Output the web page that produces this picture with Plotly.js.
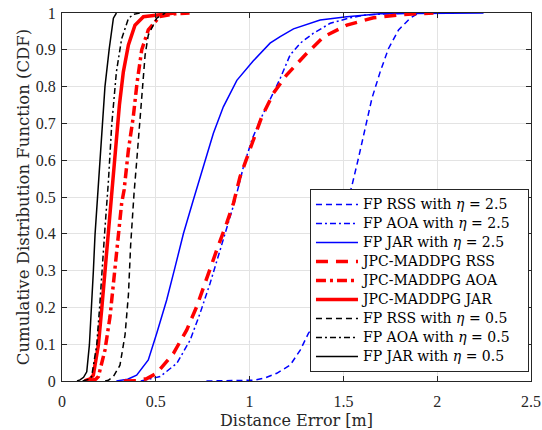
<!DOCTYPE html>
<html><head><meta charset="utf-8">
<script src="https://cdn.plot.ly/plotly-3.0.1.min.js"></script>
<style>body{margin:0;background:#fff}#plot{width:542px;height:430px}</style>
</head><body><div id="plot"></div>
<script>
// FP RSS with eta = 2.5
const fpRss25X = [0.77,0.9,1.02,1.08,1.127,1.145,1.216,1.27,1.314,1.34,1.4,1.45,1.5,1.545,1.58,1.616,1.652,1.696,1.74,1.794,1.856,1.9];
const fpRss25Y = [0,0,0.002,0.008,0.016,0.021,0.043,0.084,0.13,0.148,0.26,0.35,0.45,0.53,0.605,0.687,0.768,0.84,0.903,0.954,0.986,1];
// FP AOA with eta = 2.5
const fpAoa25X = [0.42,0.523,0.612,0.683,0.736,0.789,0.843,0.896,0.923,0.967,1.012,1.056,1.109,1.163,1.216,1.27,1.34,1.43,1.536,1.625,1.75,1.87];
const fpAoa25Y = [0,0.012,0.048,0.111,0.184,0.265,0.356,0.446,0.492,0.582,0.655,0.709,0.764,0.822,0.886,0.918,0.945,0.972,0.987,0.995,0.998,1];
// FP JAR with eta = 2.5
const fpJar25X = [0.29,0.35,0.398,0.46,0.505,0.558,0.603,0.647,0.70,0.754,0.807,0.86,0.932,1.02,1.109,1.163,1.234,1.376,1.518,1.696,2.0,2.247];
const fpJar25Y = [0,0.005,0.016,0.057,0.13,0.22,0.31,0.40,0.492,0.582,0.673,0.745,0.817,0.87,0.918,0.936,0.957,0.981,0.99,0.998,1,1];
// JPC-MADDPG RSS
const jpcRssX = [0.33,0.4,0.45,0.505,0.594,0.665,0.718,0.772,0.825,0.878,0.914,0.949,1.003,1.065,1.127,1.198,1.296,1.394,1.518,1.66,1.82,1.98];
const jpcRssY = [0,0.001,0.006,0.021,0.075,0.139,0.202,0.283,0.356,0.429,0.483,0.555,0.632,0.718,0.782,0.832,0.886,0.935,0.967,0.987,0.996,1];
// JPC-MADDPG AOA
const jpcAoaX = [0.15,0.158,0.18,0.194,0.229,0.256,0.274,0.3,0.318,0.331,0.354,0.38,0.40,0.425,0.46,0.52,0.6,0.68];
const jpcAoaY = [0,0.001,0.005,0.012,0.084,0.175,0.265,0.383,0.483,0.519,0.628,0.718,0.81,0.9,0.954,0.99,0.998,1];
// JPC-MADDPG JAR
const jpcJarX = [0.12,0.13,0.15,0.167,0.194,0.212,0.229,0.247,0.265,0.288,0.306,0.327,0.354,0.389,0.434,0.523,0.6];
const jpcJarY = [0,0.002,0.006,0.016,0.098,0.197,0.297,0.415,0.505,0.632,0.75,0.84,0.913,0.967,0.99,0.995,1];
// FP RSS with eta = 0.5
const fpRss05X = [0.23,0.247,0.274,0.309,0.336,0.354,0.366,0.377,0.384,0.398,0.412,0.425,0.443,0.46,0.505,0.55];
const fpRss05Y = [0,0.002,0.012,0.043,0.125,0.234,0.37,0.478,0.51,0.596,0.687,0.795,0.886,0.94,0.986,1];
// FP AOA with eta = 0.5
const fpAoa05X = [0.11,0.123,0.145,0.158,0.185,0.2,0.212,0.229,0.247,0.265,0.29,0.318,0.354,0.38,0.416];
const fpAoa05Y = [0,0.002,0.005,0.012,0.098,0.197,0.297,0.415,0.54,0.696,0.84,0.93,0.985,0.996,1];
// FP JAR with eta = 0.5
const fpJar05X = [0.08,0.096,0.115,0.132,0.146,0.158,0.167,0.176,0.19,0.199,0.212,0.229,0.252,0.274,0.29];
const fpJar05Y = [0,0.003,0.01,0.025,0.098,0.197,0.297,0.397,0.505,0.596,0.696,0.80,0.904,0.986,1];

const xTicks = [0,0.5,1,1.5,2,2.5];
const xTickText = ['0','0.5','1','1.5','2','2.5'];
const yTicks = [0,0.1,0.2,0.3,0.4,0.5,0.6,0.7,0.8,0.9,1];
const yTickText = ['0','0.1','0.2','0.3','0.4','0.5','0.6','0.7','0.8','0.9','1'];

const legendLabels = ['FP RSS with <i>η</i> = 2.5','FP AOA with <i>η</i> = 2.5','FP JAR with <i>η</i> = 2.5',
  'JPC-MADDPG RSS','JPC-MADDPG AOA','JPC-MADDPG JAR',
  'FP RSS with <i>η</i> = 0.5','FP AOA with <i>η</i> = 0.5','FP JAR with <i>η</i> = 0.5'];
const names = legendLabels.map(s => '<span style="font-size:14px">' + s + '\u00a0\u00a0\u00a0</span>');

const thin = 1.5, thick = 3.5;
const mk = (x,y,name,color,w,dash) => ({x,y,name,type:'scatter',mode:'lines',line:{color,width:w,dash}});
const data = [
  mk(fpRss25X,fpRss25Y,names[0],'#0000ff',thin,'6px,4px'),
  mk(fpAoa25X,fpAoa25Y,names[1],'#0000ff',thin,'6px,3px,2px,3px'),
  mk(fpJar25X,fpJar25Y,names[2],'#0000ff',thin,'solid'),
  mk(jpcRssX,jpcRssY,names[3],'#ff0000',thick,'12px,8px'),
  mk(jpcAoaX,jpcAoaY,names[4],'#ff0000',thick,'10px,4px,3px,4px'),
  mk(jpcJarX,jpcJarY,names[5],'#ff0000',thick,'solid'),
  mk(fpRss05X,fpRss05Y,names[6],'#000000',thin,'6px,4px'),
  mk(fpAoa05X,fpAoa05Y,names[7],'#000000',thin,'6px,3px,2px,3px'),
  mk(fpJar05X,fpJar05Y,names[8],'#000000',thin,'solid')
];

const tickFam = '"Liberation Serif", "Times New Roman", serif';
const titleFam = '"DejaVu Serif", "Liberation Serif", serif';
const axisCommon = {showline:true, linecolor:'#262626', linewidth:1, mirror:'ticks', ticks:'inside', ticklen:5, tickcolor:'#262626',
  showgrid:true, gridcolor:'#e3e3e3', gridwidth:1, zeroline:false, tickfont:{family:tickFam,size:16,color:'#262626'}};
const layout = {
  width:542, height:430,
  margin:{l:62, r:11, t:13, b:49},
  paper_bgcolor:'#ffffff', plot_bgcolor:'#ffffff',
  font:{family:titleFam,size:14,color:'#262626'},
  xaxis:Object.assign({}, axisCommon, {range:[0,2.5], tickvals:xTicks, ticktext:xTickText, ticklabelstandoff:6,
    title:{text:'Distance Error [m]', font:{family:titleFam,size:16,color:'#262626'}, standoff:10}}),
  yaxis:Object.assign({}, axisCommon, {range:[0,1], tickvals:yTicks, ticktext:yTickText, ticklabelstandoff:2,
    title:{text:'Cumulative Distribution Function (CDF)', font:{family:titleFam,size:16.5,color:'#262626'}, standoff:2}}),
  showlegend:true,
  legend:{x:0.9957, y:0.0245, xanchor:'right', yanchor:'bottom', bgcolor:'#ffffff', bordercolor:'#262626', borderwidth:1,
    font:{family:titleFam,size:11.5,color:'#000000'}, tracegroupgap:0, itemwidth:42}
};
Plotly.newPlot('plot', data, layout, {displayModeBar:false, staticPlot:true});
</script>
</body></html>
